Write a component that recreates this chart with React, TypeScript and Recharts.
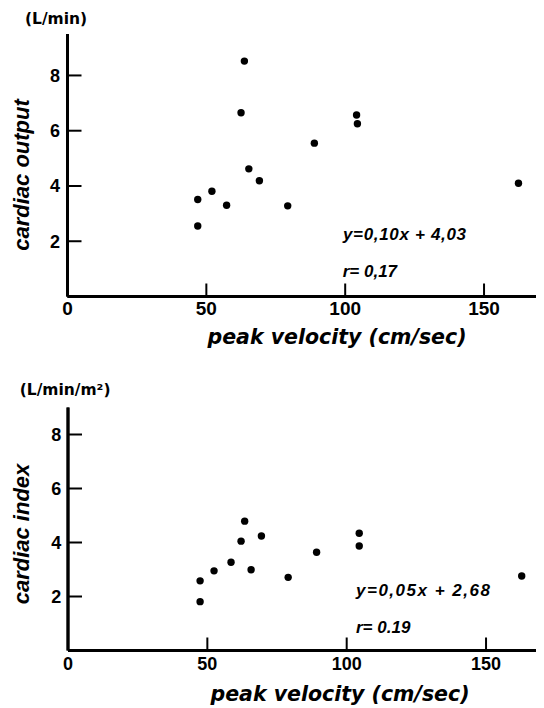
import React from 'react';
import { ScatterChart, Scatter, XAxis, YAxis, ReferenceLine } from 'recharts';

// ---- data ----
const velocityCO = [46.9, 46.9, 52.0, 57.3, 62.5, 63.7, 65.3, 69.1, 79.3, 88.9, 104.1, 104.4, 162.4];
const cardiacOutput = [3.51, 2.55, 3.81, 3.3, 6.65, 8.52, 4.62, 4.19, 3.28, 5.55, 6.57, 6.25, 4.1];

const velocityCI = [47.4, 47.4, 52.4, 58.5, 62.1, 63.4, 65.7, 69.4, 79.0, 89.2, 104.5, 104.5, 162.8];
const cardiacIndex = [2.58, 1.81, 2.95, 3.27, 4.05, 4.79, 2.99, 4.24, 2.71, 3.64, 4.34, 3.87, 2.76];

const xTicks = [0, 50, 100, 150];
const yTicks = [2, 4, 6, 8];

const xTitle = 'peak velocity (cm/sec)';
const topYTitle = 'cardiac output';
const topUnit = '(L/min)';
const topEquation = 'y=0,10x + 4,03';
const topR = 'r= 0,17';
const bottomYTitle = 'cardiac index';
const bottomUnit = '(L/min/m²)';
const bottomEquation = 'y=0,05x + 2,68';
const bottomR = 'r= 0.19';

const coData = velocityCO.map((v, i) => ({ x: v, y: cardiacOutput[i] }));
const ciData = velocityCI.map((v, i) => ({ x: v, y: cardiacIndex[i] }));

const SANS = '"Liberation Sans", Arial, sans-serif';
const DEJAVU = '"DejaVu Sans", sans-serif';

const makeXTick = (fontSize: number, dy: number) => (props: any) => {
  const { x, y, payload } = props;
  return (
    <g>
      {payload.value !== 0 && (
        <line x1={x} y1={y} x2={x} y2={y - 13} stroke="#000" strokeWidth={2} />
      )}
      <text
        x={x}
        y={y + dy}
        textAnchor="middle"
        fontFamily={SANS}
        fontWeight="bold"
        fontSize={fontSize}
        fill="#000"
        stroke="none"
      >
        {payload.value}
      </text>
    </g>
  );
};

const makeYTick = (fontSize: number, gap: number) => (props: any) => {
  const { x, y, payload } = props;
  return (
    <g>
      <line x1={x} y1={y} x2={x + 14} y2={y} stroke="#000" strokeWidth={2} />
      <text
        x={x - gap}
        y={y}
        dy="0.36em"
        textAnchor="end"
        fontFamily={SANS}
        fontWeight="bold"
        fontSize={fontSize}
        fill="#000"
        stroke="none"
      >
        {payload.value}
      </text>
    </g>
  );
};

const Dot = (props: any) => <circle cx={props.cx} cy={props.cy} r={3.7} fill="#000" />;

const axisLineStyle = { stroke: '#000', strokeWidth: 2.8 };

export default function App() {
  return (
    <div style={{ width: 536 }}>
      <ScatterChart
        width={536}
        height={344}
        margin={{ top: 26, right: 7.2, bottom: 25.5, left: 0 }}
      >
        <XAxis
          type="number"
          dataKey="x"
          domain={[0, 169]}
          ticks={xTicks}
          interval={0}
          height={30}
          tickSize={0}
          tickMargin={0}
          stroke="#000"
          axisLine={axisLineStyle}
          tickLine={false}
          tick={makeXTick(19, 18)}
        />
        <YAxis
          type="number"
          dataKey="y"
          domain={[0, 9.5]}
          ticks={yTicks}
          interval={0}
          width={59.5}
          tickSize={0}
          tickMargin={0}
          stroke="#000"
          axisLine={axisLineStyle}
          tickLine={false}
          tick={makeYTick(18, 7.5)}
        />
        <ReferenceLine x={0} stroke="#000" strokeWidth={3} />
        <ReferenceLine y={0} stroke="#000" strokeWidth={3} />
        <Scatter data={coData} shape={Dot} isAnimationActive={false} />
        <text x={17} y={16} fontFamily={DEJAVU} fontWeight="bold" fontSize={15.5} fill="#000">
          {topUnit}
        </text>
        <text
          x={20.5}
          y={167}
          transform="rotate(-90, 20.5, 167)"
          textAnchor="middle"
          fontFamily={SANS}
          fontWeight="bold"
          fontStyle="italic"
          fontSize={22}
          fill="#000"
        >
          {topYTitle}
        </text>
        <text
          x={329}
          y={336}
          textAnchor="middle"
          fontFamily={DEJAVU}
          fontWeight="bold"
          fontStyle="italic"
          fontSize={20.5}
          fill="#000"
        >
          {xTitle}
        </text>
        <text
          x={335}
          y={232}
          fontFamily={SANS}
          fontWeight="bold"
          fontStyle="italic"
          fontSize={17}
          textLength={123}
          fill="#000"
        >
          {topEquation}
        </text>
        <text
          x={334.7}
          y={269}
          fontFamily={SANS}
          fontWeight="bold"
          fontStyle="italic"
          fontSize={17}
          fill="#000"
        >
          {topR}
        </text>
      </ScatterChart>

      <ScatterChart
        width={536}
        height={356}
        margin={{ top: 55.5, right: 7.8, bottom: 27.5, left: 0 }}
      >
        <XAxis
          type="number"
          dataKey="x"
          domain={[0, 168]}
          ticks={xTicks}
          interval={0}
          height={30}
          tickSize={0}
          tickMargin={0}
          stroke="#000"
          axisLine={axisLineStyle}
          tickLine={false}
          tick={makeXTick(18, 19.5)}
        />
        <YAxis
          type="number"
          dataKey="y"
          domain={[0, 9]}
          ticks={yTicks}
          interval={0}
          width={60}
          tickSize={0}
          tickMargin={0}
          stroke="#000"
          axisLine={axisLineStyle}
          tickLine={false}
          tick={makeYTick(18, 6.7)}
        />
        <ReferenceLine x={0} stroke="#000" strokeWidth={3} />
        <ReferenceLine y={0} stroke="#000" strokeWidth={3} />
        <Scatter data={ciData} shape={Dot} isAnimationActive={false} />
        <text x={11.7} y={43} fontFamily={DEJAVU} fontWeight="bold" fontSize={15.5} fill="#000">
          {bottomUnit}
        </text>
        <text
          x={21.3}
          y={182}
          transform="rotate(-90, 21.3, 182)"
          textAnchor="middle"
          fontFamily={SANS}
          fontWeight="bold"
          fontStyle="italic"
          fontSize={22}
          fill="#000"
        >
          {bottomYTitle}
        </text>
        <text
          x={332}
          y={349}
          textAnchor="middle"
          fontFamily={DEJAVU}
          fontWeight="bold"
          fontStyle="italic"
          fontSize={20.5}
          fill="#000"
        >
          {xTitle}
        </text>
        <text
          x={348}
          y={244}
          fontFamily={SANS}
          fontWeight="bold"
          fontStyle="italic"
          fontSize={17}
          textLength={134}
          fill="#000"
        >
          {bottomEquation}
        </text>
        <text
          x={348}
          y={280.7}
          fontFamily={SANS}
          fontWeight="bold"
          fontStyle="italic"
          fontSize={17}
          fill="#000"
        >
          {bottomR}
        </text>
      </ScatterChart>
    </div>
  );
}
